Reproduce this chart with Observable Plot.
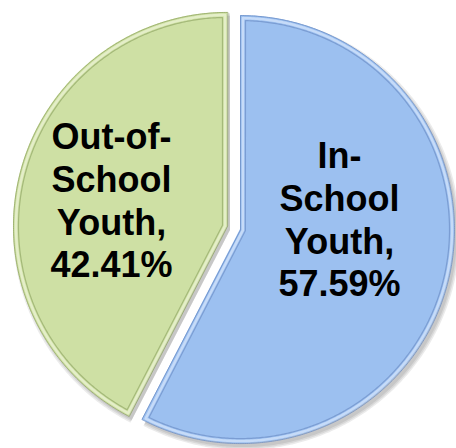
<!DOCTYPE html>
<html>
<head>
<meta charset="utf-8">
<script src="https://cdn.jsdelivr.net/npm/d3@7"></script>
<script src="https://cdn.jsdelivr.net/npm/@observablehq/plot@0.6"></script>
<style>
  html, body { margin: 0; padding: 0; background: #fff; }
</style>
</head>
<body>
<div id="chart"></div>
<script>
// ---- data ----
const categories = ["In-School Youth", "Out-of-School Youth"];
const shares = [57.59, 42.41];
const labels = [["In-", "School", "Youth,", "57.59%"], ["Out-of-", "School", "Youth,", "42.41%"]];
const fills = ["#9cc0f0", "#cee0a4"];
const edges = ["#6d8fc6", "#93a866"];
const highlights = ["#c6dbf8", "#e4eec8"];

// ---- layout ----
const W = 456, H = 448;
const cx = 233.5, cy = 227.5, R = 214, explode = 6.7;
const labelPos = [[339, 218], [111, 199]];
const shadowDx = 3, shadowDy = 4;

const pie = d3.pie().sort(null).value(d => d.share)
  .startAngle(0).endAngle(2 * Math.PI);
const arcs = pie(categories.map((c, i) => ({cat: c, share: shares[i], i})));

// arc boundary points (from the pie angles) plus the slice apex, inset by `inset` px
function sliceGeom(a, inset, dx = 0, dy = 0) {
  const mid = (a.startAngle + a.endAngle) / 2;
  const half = (a.endAngle - a.startAngle) / 2;
  const ox = cx + dx + explode * Math.sin(mid), oy = cy + dy - explode * Math.cos(mid);
  const r = R - inset;
  const da = inset > 0 ? Math.asin(inset / r) : 0;
  const vd = inset > 0 ? inset / Math.sin(Math.min(half, Math.PI / 2)) : 0;
  const apex = {x: ox + vd * Math.sin(mid), y: oy - vd * Math.cos(mid)};
  const a0 = a.startAngle + da, a1 = a.endAngle - da;
  const n = Math.ceil((a1 - a0) / (Math.PI / 360));
  const arc = [];
  for (let k = 0; k <= n; k++) {
    const t = a0 + (a1 - a0) * k / n;
    arc.push({x: ox + r * Math.sin(t), y: oy - r * Math.cos(t), ax: apex.x, ay: apex.y});
  }
  return {apex, arc, ring: [apex, ...arc]};
}

const marks = [];
// soft shadow
arcs.forEach((a, i) => {
  [0, 1.5, 3].forEach(s => {
    marks.push(Plot.area(sliceGeom(a, -s, shadowDx, shadowDy).arc, {x1: "x", y1: "y", x2: "ax", y2: "ay", fill: "#000", fillOpacity: 0.08}));
  });
});
arcs.forEach((a, i) => {
  const g = sliceGeom(a, 0);
  marks.push(Plot.area(g.arc, {x1: "x", y1: "y", x2: "ax", y2: "ay", fill: fills[i]}));
});
arcs.forEach((a, i) => {
  marks.push(Plot.line(sliceGeom(a, 0).ring, {x: "x", y: "y", stroke: edges[i], strokeWidth: 1, strokeOpacity: 0.8, curve: "linear-closed"}));
  marks.push(Plot.line(sliceGeom(a, 2.5).ring, {x: "x", y: "y", stroke: highlights[i], strokeWidth: 2.5, curve: "linear-closed"}));
  marks.push(Plot.line(sliceGeom(a, 5).ring, {x: "x", y: "y", stroke: edges[i], strokeWidth: 1.2, strokeOpacity: 0.7, curve: "linear-closed"}));
});
arcs.forEach((a, i) => {
  marks.push(Plot.text([{text: labels[i].join("\n"), x: labelPos[i][0], y: labelPos[i][1]}], {
    x: "x", y: "y", text: "text", fill: "#000", fontSize: 36, fontWeight: "bold",
    fontFamily: "Liberation Sans, Arial, sans-serif", lineHeight: 1.19,
    textAnchor: "middle", lineAnchor: "middle"
  }));
});

const chart = Plot.plot({
  width: W, height: H,
  margin: 0,
  x: {domain: [0, W], range: [0, W], axis: null},
  y: {domain: [0, H], range: [0, H], axis: null},
  marks
});
document.getElementById("chart").appendChild(chart);
</script>
</body>
</html>
